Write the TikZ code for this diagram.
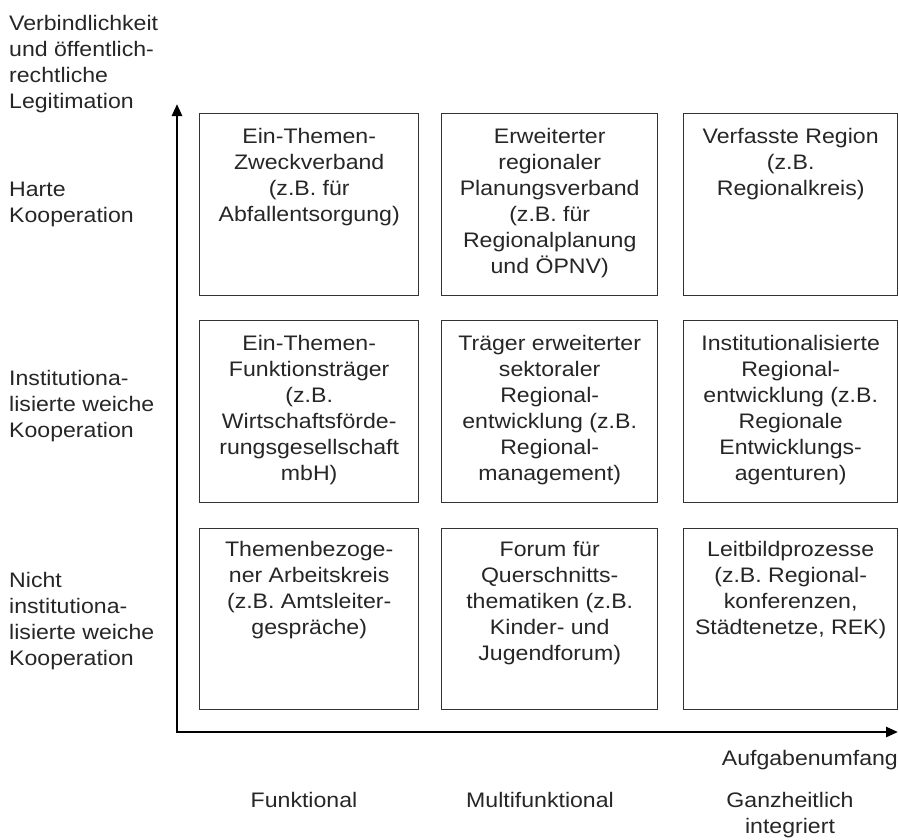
\documentclass[tikz,border=0pt]{standalone}
\usepackage{fontspec}
\setmainfont[FakeStretch=1.1]{Liberation Sans}
\usetikzlibrary{arrows.meta}
\begin{document}
\begin{tikzpicture}[x=1pt,y=-1pt,
  txt/.style={inner sep=0pt,text=black!85,font=\fontsize{21}{26}\selectfont},
  cell/.style={draw=black!80,line width=1.4pt,fill=white,anchor=north west,inner sep=0pt},
  celltext/.style={txt,anchor=north,align=center},
  side/.style={txt,anchor=north west,align=left},
  bottom/.style={txt,anchor=north,align=center},
  axis/.style={line width=2.6pt,{Triangle[length=12pt,width=10pt]}-{Triangle[length=12pt,width=10pt]}}]
\useasboundingbox (0,0) rectangle (899,839);
% boxes
\node[cell,minimum width=219pt,minimum height=182pt] (b11) at (199,113) {};
\node[cell,minimum width=216pt,minimum height=182pt] (b12) at (441,113) {};
\node[cell,minimum width=214pt,minimum height=182pt] (b13) at (683,113) {};
\node[cell,minimum width=219pt,minimum height=182pt] (b21) at (199,320) {};
\node[cell,minimum width=216pt,minimum height=182pt] (b22) at (441,320) {};
\node[cell,minimum width=214pt,minimum height=182pt] (b23) at (683,320) {};
\node[cell,minimum width=219pt,minimum height=181pt] (b31) at (199,528) {};
\node[cell,minimum width=216pt,minimum height=181pt] (b32) at (441,528) {};
\node[cell,minimum width=214pt,minimum height=181pt] (b33) at (683,528) {};
% box texts
\node[celltext] (t11) at ([yshift=-15pt]b11.north) {Ein-Themen-\\Zweckverband\\(z.B. für\\Abfallentsorgung)};
\node[celltext] (t12) at ([yshift=-15pt]b12.north) {Erweiterter\\regionaler\\Planungsverband\\(z.B. für\\Regionalplanung\\und ÖPNV)};
\node[celltext] (t13) at ([yshift=-15pt]b13.north) {Verfasste Region\\(z.B.\\Regionalkreis)};
\node[celltext] (t21) at ([yshift=-15pt]b21.north) {Ein-Themen-\\Funktionsträger\\(z.B.\\Wirtschaftsförde-\\rungsgesellschaft\\mbH)};
\node[celltext] (t22) at ([yshift=-15pt]b22.north) {Träger erweiterter\\sektoraler\\Regional-\\entwicklung (z.B.\\Regional-\\management)};
\node[celltext] (t23) at ([yshift=-15pt]b23.north) {Institutionalisierte\\Regional-\\entwicklung (z.B.\\Regionale\\Entwicklungs-\\agenturen)};
\node[celltext] (t31) at ([yshift=-13pt]b31.north) {Themenbezoge-\\ner Arbeitskreis\\(z.B. Amtsleiter-\\gespräche)};
\node[celltext] (t32) at ([yshift=-13pt]b32.north) {Forum für\\Querschnitts-\\thematiken (z.B.\\Kinder- und\\Jugendforum)};
\node[celltext] (t33) at ([yshift=-13pt]b33.north) {Leitbildprozesse\\(z.B. Regional-\\konferenzen,\\Städtenetze, REK)};
% axes
\coordinate (O) at (177,732);
\coordinate (ytop) at (177,104);
\coordinate (xend) at (898,732);
\draw[axis] (ytop) -- (O) -- (xend);
% side labels
\node[side] (lv) at (9,15) {Verbindlichkeit\\und öffentlich-\\rechtliche\\Legitimation};
\node[side] (lh) at (9,182) {Harte\\Kooperation};
\node[side] (li) at (9,370) {Institutiona-\\lisierte weiche\\Kooperation};
\node[side] (ln) at (9,572) {Nicht\\institutiona-\\lisierte weiche\\Kooperation};
% bottom labels
\node[txt,anchor=north east] (la) at (898,750) {Aufgabenumfang};
\node[bottom] (lf) at (304,792) {Funktional};
\node[bottom] (lm) at (540,792) {Multifunktional};
\node[bottom] (lg) at (790,792) {Ganzheitlich\\integriert};
\end{tikzpicture}
\end{document}
